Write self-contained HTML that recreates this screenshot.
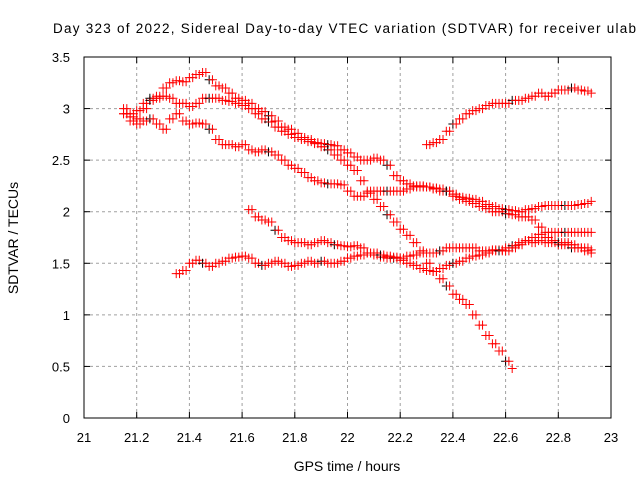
<!DOCTYPE html>
<html><head><meta charset="utf-8"><style>
body{margin:0;background:#fff;width:640px;height:480px;overflow:hidden}
svg{font-family:"Liberation Sans",sans-serif;font-size:13px}
</style></head><body>
<svg id="chart" width="640" height="480" viewBox="0 0 640 480">
<text x="53" y="33" textLength="583" lengthAdjust="spacing" font-size="13.5">Day 323 of 2022, Sidereal Day-to-day VTEC variation (SDTVAR) for receiver ulab</text>
<text x="347" y="471" text-anchor="middle" font-size="14">GPS time / hours</text>
<text transform="translate(18,238) rotate(-90)" text-anchor="middle" font-size="14">SDTVAR / TECUs</text>
<g id="grid"></g>
<g id="ticks"></g>
<g id="marks"></g>
<rect x="84" y="57" width="527" height="361" fill="none" stroke="#000" stroke-width="1"/>
</svg>
<script>
const xTicks=[21,21.2,21.4,21.6,21.8,22,22.2,22.4,22.6,22.8,23];
const xTickLabels=["21","21.2","21.4","21.6","21.8","22","22.2","22.4","22.6","22.8","23"];
const yTicks=[0,0.5,1,1.5,2,2.5,3,3.5];
const yTickLabels=["0","0.5","1","1.5","2","2.5","3","3.5"];
const trackStart=[21.15,21.15,21.15,21.625,21.35,22.3];
const timeStep=0.025;
const trackA=[2.95,2.92,2.98,3.05,3.1,3.12,3.2,3.25,3.27,3.26,3.3,3.33,3.35,3.28,3.22,3.2,3.15,3.1,3.08,3.05,3.0,2.97,2.93,2.88,2.82,2.8,2.76,2.72,2.7,2.67,2.66,2.65,2.64,2.6,2.57,2.53,2.5,2.5,2.52,2.5,2.45,2.35,2.3,2.27,2.25,2.24,2.24,2.23,2.22,2.2,2.17,2.14,2.13,2.12,2.1,2.07,2.05,2.03,2.02,2.01,2.0,2.02,2.03,2.05,2.06,2.06,2.06,2.06,2.06,2.07,2.08,2.1];
const trackB=[3.0,2.95,2.9,3.0,3.08,3.1,3.12,3.1,3.05,3.05,3.02,3.05,3.1,3.1,3.1,3.08,3.07,3.05,3.03,3.0,2.95,2.9,2.87,2.82,2.78,2.75,2.72,2.7,2.68,2.66,2.63,2.6,2.55,2.5,2.45,2.4,2.3,2.2,2.12,2.05,1.97,1.9,1.83,1.77,1.7,1.62,1.5,1.42,1.35,1.28,1.2,1.15,1.1,1.0,0.9,0.8,0.72,0.65,0.55,0.48];
const trackC=[2.95,2.88,2.85,2.88,2.9,2.85,2.8,2.9,2.95,2.88,2.85,2.86,2.85,2.8,2.7,2.65,2.65,2.63,2.65,2.6,2.58,2.6,2.58,2.55,2.5,2.45,2.42,2.38,2.33,2.3,2.28,2.27,2.27,2.26,2.2,2.15,2.15,2.18,2.2,2.2,2.2,2.2,2.2,2.22,2.24,2.25,2.24,2.22,2.2,2.2,2.15,2.12,2.1,2.08,2.05,2.03,2.0,2.0,1.98,1.97,1.95,1.95,1.92,1.85,1.8,1.8,1.8,1.8,1.8,1.8,1.8,1.8];
const trackD=[2.02,1.95,1.92,1.9,1.82,1.75,1.72,1.7,1.7,1.68,1.7,1.72,1.7,1.68,1.67,1.66,1.67,1.65,1.6,1.58,1.56,1.55,1.55,1.53,1.5,1.48,1.45,1.43,1.42,1.45,1.48,1.5,1.52,1.55,1.57,1.58,1.6,1.62,1.63,1.65,1.67,1.7,1.72,1.7,1.72,1.7,1.7,1.68,1.68,1.65,1.65,1.65,1.63];
const trackE=[1.4,1.43,1.5,1.53,1.5,1.47,1.5,1.52,1.55,1.56,1.57,1.55,1.5,1.48,1.5,1.52,1.5,1.47,1.48,1.5,1.52,1.5,1.52,1.5,1.5,1.52,1.55,1.57,1.58,1.6,1.6,1.58,1.57,1.56,1.55,1.57,1.58,1.6,1.6,1.6,1.62,1.65,1.65,1.65,1.65,1.65,1.62,1.62,1.63,1.62,1.62,1.65,1.68,1.72,1.75,1.78,1.75,1.72,1.7,1.7,1.68,1.65,1.62,1.6];
const trackF=[2.65,2.67,2.7,2.78,2.85,2.9,2.95,2.98,3.0,3.03,3.05,3.05,3.05,3.08,3.08,3.1,3.12,3.15,3.12,3.15,3.18,3.18,3.2,3.18,3.17,3.15];
const tracks=[trackA,trackB,trackC,trackD,trackE,trackF];

const NS="http://www.w3.org/2000/svg";
const X0=84,X1=611,Y0=418,Y1=57;
function xs(v){return X0+(v-21)/(23-21)*(X1-X0);}
function ys(v){return Y0-(v-0)/(3.5-0)*(Y0-Y1);}
function mk(tag,attrs,parent){const e=document.createElementNS(NS,tag);for(const k in attrs)e.setAttribute(k,attrs[k]);parent.appendChild(e);return e;}
const grid=document.getElementById('grid'),ticks=document.getElementById('ticks'),marks=document.getElementById('marks');
xTicks.forEach((t,i)=>{
  const x=xs(t);
  if(i>0&&i<xTicks.length-1){const g=mk('line',{x1:x,x2:x,y1:Y0,y2:Y1,stroke:'#a0a0a0','stroke-dasharray':'3,3'},grid);
  
  }
  mk('line',{x1:x,x2:x,y1:Y0,y2:Y0-6,stroke:'#000'},ticks);
  mk('line',{x1:x,x2:x,y1:Y1,y2:Y1+6,stroke:'#000'},ticks);
  const l=mk('text',{x:x,y:Y0+24,'text-anchor':'middle'},ticks);l.textContent=xTickLabels[i];
  
  
});
yTicks.forEach((t,i)=>{
  const y=ys(t);
  if(i>0&&i<yTicks.length-1){const g=mk('line',{x1:X0,x2:X1,y1:y,y2:y,stroke:'#a0a0a0','stroke-dasharray':'3,3'},grid);
  
  }
  mk('line',{x1:X0,x2:X0+6,y1:y,y2:y,stroke:'#000'},ticks);
  mk('line',{x1:X1,x2:X1-6,y1:y,y2:y,stroke:'#000'},ticks);
  const l=mk('text',{x:X0-14,y:y+5,'text-anchor':'end'},ticks);l.textContent=yTickLabels[i];
  
  
});
function plus(x,y,col){
  const p=mk('path',{d:`M${x-4.5},${y}H${x+4.5}M${x},${y-4.5}V${y+4.5}`,stroke:col,'stroke-width':1,fill:'none'},marks);
  
  
}
tracks.forEach((tr,ti)=>{
  tr.forEach((v,j)=>{
    const t=trackStart[ti]+j*timeStep;
    if(t>22.93)return;
    const x=xs(t),y=ys(v);
    const col=(j%9===4)?'#000':'#f00';
    plus(x,y,col);
    if(j<tr.length-1 && t+timeStep/2<=22.93){
      plus(xs(t+timeStep/2),ys(v),'#f00');
    }
  });
});
</script>
</body></html>
